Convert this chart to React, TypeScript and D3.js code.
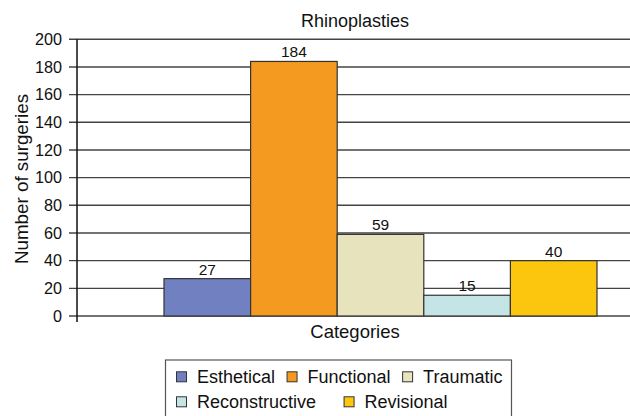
import React, { useRef, useEffect } from 'react';
import * as d3 from 'd3';

const title = 'Rhinoplasties';
const xTitle = 'Categories';
const yTitle = 'Number of surgeries';
const categories = ['Esthetical', 'Functional', 'Traumatic', 'Reconstructive', 'Revisional'];
const values = [27, 184, 59, 15, 40];
const colors = ['#7080c0', '#f59a20', '#e7e4bd', '#c5e4e6', '#fcc60f'];
const yTicks = [0, 20, 40, 60, 80, 100, 120, 140, 160, 180, 200];
const legendRows = [
    ['Esthetical', 'Functional', 'Traumatic'],
    ['Reconstructive', 'Revisional'],
];

function App() {
    const ref = useRef<SVGSVGElement | null>(null);

    useEffect(() => {
        const width = 630;
        const height = 416;
        const font = '"Liberation Sans", Arial, Helvetica, sans-serif';

        const svg = d3.select(ref.current);
        svg.selectAll('*').remove();
        svg.attr('width', width).attr('height', height).style('font-family', font);

        const axisX = 77;
        const y = d3.scaleLinear().domain([0, 200]).range([316, 39.3]);
        const x = d3.scaleBand<string>().domain(categories).range([164, 597]).padding(0);

        // gridlines + ticks
        svg.append('g')
            .selectAll('line')
            .data(yTicks)
            .join('line')
            .attr('x1', 69)
            .attr('x2', width)
            .attr('y1', d => y(d))
            .attr('y2', d => y(d))
            .attr('stroke', '#444')
            .attr('stroke-width', 1.4);

        svg.append('g')
            .selectAll('text')
            .data(yTicks)
            .join('text')
            .attr('x', 62)
            .attr('y', d => y(d))
            .attr('dy', '0.36em')
            .attr('text-anchor', 'end')
            .attr('font-size', 16.2)
            .attr('fill', '#111')
            .text(d => d);

        // bars
        svg.append('g')
            .selectAll('rect')
            .data(values)
            .join('rect')
            .attr('x', (d, i) => x(categories[i]) as number)
            .attr('y', d => y(d))
            .attr('width', x.bandwidth())
            .attr('height', d => y(0) - y(d))
            .attr('fill', (d, i) => colors[i])
            .attr('stroke', '#333')
            .attr('stroke-width', 1.2);

        svg.append('g')
            .selectAll('text')
            .data(values)
            .join('text')
            .attr('x', (d, i) => (x(categories[i]) as number) + x.bandwidth() / 2)
            .attr('y', d => y(d) - 4)
            .attr('text-anchor', 'middle')
            .attr('font-size', 15.5)
            .attr('fill', '#111')
            .text(d => d);

        // y axis line
        svg.append('line')
            .attr('x1', axisX)
            .attr('x2', axisX)
            .attr('y1', y(200))
            .attr('y2', 322)
            .attr('stroke', '#111')
            .attr('stroke-width', 1.5);

        // titles
        svg.append('text')
            .attr('x', 355)
            .attr('y', 26.5)
            .attr('text-anchor', 'middle')
            .attr('font-size', 18)
            .attr('fill', '#111')
            .text(title);

        svg.append('text')
            .attr('x', 355)
            .attr('y', 337.5)
            .attr('text-anchor', 'middle')
            .attr('font-size', 18.5)
            .attr('fill', '#111')
            .text(xTitle);

        svg.append('text')
            .attr('transform', 'translate(27.5,179) rotate(-90)')
            .attr('text-anchor', 'middle')
            .attr('font-size', 18.8)
            .attr('fill', '#111')
            .text(yTitle);

        // legend
        const legend = svg.append('g');
        legend.append('rect')
            .attr('x', 165.5)
            .attr('y', 360)
            .attr('width', 346)
            .attr('height', 80)
            .attr('fill', 'none')
            .attr('stroke', '#555')
            .attr('stroke-width', 1.2);

        const rowGaps = [12, 28];
        legendRows.forEach((row, r) => {
            let cx = 176.5;
            const baseline = 383.3 + r * 25;
            row.forEach(name => {
                const i = categories.indexOf(name);
                legend.append('rect')
                    .attr('x', cx)
                    .attr('y', baseline - 11.5)
                    .attr('width', 10)
                    .attr('height', 10)
                    .attr('fill', colors[i])
                    .attr('stroke', '#333')
                    .attr('stroke-width', 1);
                const t = legend.append('text')
                    .attr('x', cx + 20.5)
                    .attr('y', baseline)
                    .attr('font-size', 18)
                    .attr('fill', '#111')
                    .text(name);
                const w = (t.node() as SVGTextElement).getComputedTextLength();
                cx = cx + 20.5 + w + rowGaps[r];
            });
        });
    }, []);

    return <svg ref={ref} style={{ position: 'absolute', left: 0, top: 0 }}></svg>;
}

export default App;
